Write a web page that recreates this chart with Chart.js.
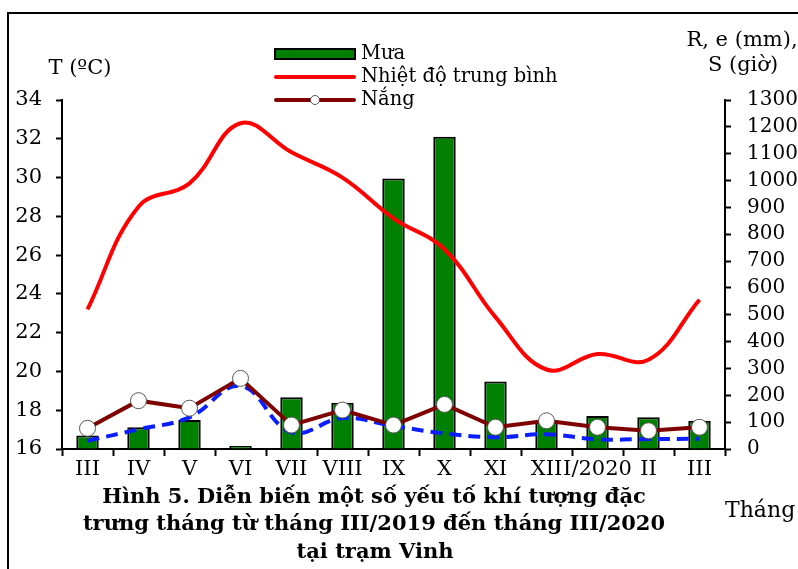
<!DOCTYPE html>
<html>
<head>
<meta charset="utf-8">
<script src="https://cdn.jsdelivr.net/npm/chart.js@4.4.1/dist/chart.umd.min.js"></script>
<style>
  html, body { margin: 0; padding: 0; background: #fff; overflow: hidden; }
  #wrap { position: relative; width: 798px; height: 569px; }
</style>
</head>
<body>
<div id="wrap"><canvas id="chart" width="798" height="569"></canvas></div>
<script>
// months III/2019 -> III/2020
const months = ['III', 'IV', 'V', 'VI', 'VII', 'VIII', 'IX', 'X', 'XI', 'XII', 'I/2020', 'II', 'III'];
// rainfall R (mm), right axis
const rain = [50, 81, 108, 11, 193, 172, 1008, 1163, 251, 100, 123, 118, 105];
// mean temperature T (°C), left axis
const tempMean = [23.2, 28.5, 29.7, 32.8, 31.3, 30.0, 27.9, 26.3, 22.8, 20.1, 20.9, 20.6, 23.7];
// sunshine S (hours), right axis
const sunshine = [77, 180, 152, 263, 89, 145, 89, 166, 81, 105, 81, 68, 81];
// evaporation e (mm), right axis (dashed, not in legend)
const evaporation = [31, 73, 118, 235, 62, 115, 86, 58, 44, 55, 36, 37, 38];

const leftTicks = { min: 16, max: 34, step: 2 };
const rightTicks = { min: 0, max: 1300, step: 100 };

const FONT = 'DejaVu Serif';

const legendItems = [
    { label: 'Mưa', kind: 'bar', color: '#008000' },
    { label: 'Nhiệt độ trung bình', kind: 'line', color: '#ff0000' },
    { label: 'Nắng', kind: 'point', color: '#7f0000' }
];

// frame, legend, axis titles and caption
const decorPlugin = {
    id: 'decor',
    afterDraw(chart) {
        const ctx = chart.ctx;
        ctx.save();

        // outer frame (right and bottom edges fall outside the picture)
        ctx.strokeStyle = '#000';
        ctx.lineWidth = 2;
        ctx.strokeRect(8, 13, 900, 700);

        // legend
        ctx.font = '19.5px "' + FONT + '"';
        ctx.textBaseline = 'middle';
        ctx.textAlign = 'left';
        legendItems.forEach((item, i) => {
            const y = 54 + i * 23;
            if (item.kind === 'bar') {
                ctx.fillStyle = item.color;
                ctx.fillRect(275, y - 5, 80, 10);
                ctx.strokeStyle = '#000';
                ctx.lineWidth = 2;
                ctx.strokeRect(275, y - 5, 80, 10);
            } else {
                ctx.strokeStyle = item.color;
                ctx.lineWidth = 4;
                ctx.lineCap = 'round';
                ctx.beginPath();
                ctx.moveTo(276, y);
                ctx.lineTo(354, y);
                ctx.stroke();
                if (item.kind === 'point') {
                    ctx.fillStyle = '#fff';
                    ctx.strokeStyle = '#555';
                    ctx.lineWidth = 1;
                    ctx.beginPath();
                    ctx.arc(315, y, 4.5, 0, Math.PI * 2);
                    ctx.fill();
                    ctx.stroke();
                }
            }
            ctx.fillStyle = '#000';
            ctx.fillText(item.label, 361, y);
        });

        // axis titles
        ctx.font = '21px "' + FONT + '"';
        ctx.textAlign = 'center';
        ctx.fillText('T (ºC)', 80, 69);
        ctx.fillText('R, e (mm),', 742, 41);
        ctx.fillText('S (giờ)', 743, 66);
        ctx.textAlign = 'left';
        ctx.font = '22px "' + FONT + '"';
        ctx.fillText('Tháng', 725, 511);

        // caption
        ctx.font = 'bold 21px "' + FONT + '"';
        ctx.textAlign = 'center';
        ctx.fillText('Hình 5. Diễn biến một số yếu tố khí tượng đặc', 374, 498);
        ctx.fillText('trưng tháng từ tháng III/2019 đến tháng III/2020', 374, 525);
        ctx.fillText('tại trạm Vinh', 375, 553);

        ctx.restore();
    }
};

const ctx = document.getElementById('chart').getContext('2d');
new Chart(ctx, {
    data: {
        labels: months,
        datasets: [
            {
                type: 'line',
                label: 'Nắng',
                data: sunshine,
                yAxisID: 'y1',
                borderColor: '#7f0000',
                borderWidth: 4,
                tension: 0,
                pointRadius: 8,
                pointBackgroundColor: '#fff',
                pointBorderColor: '#555',
                pointBorderWidth: 1,
                order: 1
            },
            {
                type: 'line',
                label: 'e',
                data: evaporation,
                yAxisID: 'y1',
                borderColor: '#0a1eff',
                borderWidth: 4,
                borderDash: [12, 7],
                tension: 0.4,
                pointRadius: 0,
                order: 2
            },
            {
                type: 'line',
                label: 'Nhiệt độ trung bình',
                data: tempMean,
                yAxisID: 'y',
                borderColor: '#ff0000',
                borderWidth: 4,
                tension: 0.4,
                pointRadius: 0,
                order: 3
            },
            {
                type: 'bar',
                label: 'Mưa',
                data: rain,
                yAxisID: 'y1',
                backgroundColor: '#008000',
                borderColor: '#000',
                borderWidth: 2,
                barPercentage: 0.44,
                categoryPercentage: 1,
                order: 4
            }
        ]
    },
    options: {
        responsive: false,
        animation: false,
        layout: { padding: { top: 100, left: 0, right: 0, bottom: 0 } },
        plugins: {
            legend: { display: false },
            tooltip: { enabled: false }
        },
        scales: {
            x: {
                offset: true,
                grid: { display: true, drawOnChartArea: false, offset: true, tickLength: 7, tickColor: '#000', tickWidth: 2 },
                border: { color: '#000', width: 2 },
                ticks: { color: '#000', font: { family: FONT, size: 21 }, maxRotation: 0, autoSkip: false, padding: 1 },
                afterFit(scale) { scale.height = 120; }
            },
            y: {
                position: 'left',
                min: leftTicks.min,
                max: leftTicks.max,
                grid: { drawOnChartArea: false, tickLength: 6, tickColor: '#000', tickWidth: 2 },
                border: { color: '#000', width: 2 },
                ticks: { stepSize: leftTicks.step, autoSkip: false, color: '#000', font: { family: FONT, size: 21 }, padding: 14 },
                afterFit(scale) { scale.width = 62; }
            },
            y1: {
                position: 'right',
                min: rightTicks.min,
                max: rightTicks.max,
                grid: { drawOnChartArea: false, tickLength: 6, tickColor: '#000', tickWidth: 2 },
                border: { color: '#000', width: 2 },
                ticks: {
                    stepSize: rightTicks.step, autoSkip: false, color: '#000', font: { family: FONT, size: 20 }, padding: 16,
                    callback: (v) => String(v)
                },
                afterFit(scale) { scale.width = 73; }
            }
        }
    },
    plugins: [decorPlugin]
});
</script>
</body>
</html>
